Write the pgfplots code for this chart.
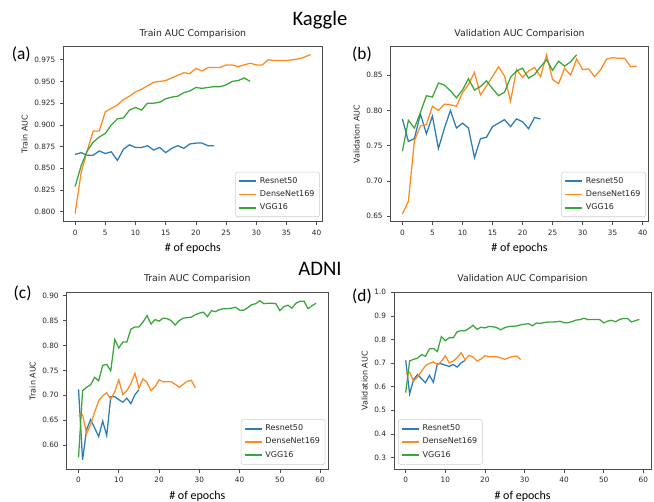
\documentclass[border=0pt]{standalone}
\usepackage{fontspec}
\setmainfont{DejaVu Sans}
\newfontfamily\carlito{Carlito}
\usepackage{pgfplots}
\pgfplotsset{compat=1.18}

\definecolor{mplblue}{HTML}{2A7DB8}
\definecolor{mplorange}{HTML}{FF8A20}
\definecolor{mplgreen}{HTML}{3AA63A}

% Kaggle, train
\pgfplotstableread{
e v
0 0.866
1 0.868
2 0.865
3 0.865
4 0.870
5 0.867
6 0.869
7 0.859
8 0.872
9 0.877
10 0.874
11 0.874
12 0.876
13 0.871
14 0.874
15 0.868
16 0.873
17 0.876
18 0.873
19 0.878
20 0.879
21 0.879
22 0.876
23 0.876
}\kTrRes
\pgfplotstableread{
e v
0 0.798
1 0.845
2 0.870
3 0.893
4 0.893
5 0.915
6 0.919
7 0.923
8 0.929
9 0.933
10 0.938
11 0.941
12 0.945
13 0.949
14 0.950
15 0.951
16 0.954
17 0.957
18 0.960
19 0.959
20 0.965
21 0.962
22 0.966
23 0.966
24 0.966
25 0.969
26 0.969
27 0.967
28 0.969
29 0.971
30 0.969
31 0.969
32 0.975
33 0.974
34 0.974
35 0.974
36 0.975
37 0.976
38 0.978
39 0.981
}\kTrDen
\pgfplotstableread{
e v
0 0.829
1 0.853
2 0.870
3 0.880
4 0.886
5 0.890
6 0.900
7 0.907
8 0.908
9 0.917
10 0.920
11 0.917
12 0.925
13 0.925
14 0.926
15 0.930
16 0.932
17 0.933
18 0.937
19 0.939
20 0.943
21 0.942
22 0.943
23 0.944
24 0.944
25 0.946
26 0.950
27 0.951
28 0.954
29 0.950
}\kTrVgg

% Kaggle, validation
\pgfplotstableread{
e v
0 0.788
1 0.756
2 0.760
3 0.795
4 0.767
5 0.792
6 0.746
7 0.775
8 0.800
9 0.775
10 0.782
11 0.775
12 0.733
13 0.760
14 0.762
15 0.777
16 0.782
17 0.787
18 0.777
19 0.788
20 0.784
21 0.774
22 0.790
23 0.788
}\kVaRes
\pgfplotstableread{
e v
0 0.653
1 0.671
2 0.757
3 0.778
4 0.780
5 0.806
6 0.800
7 0.809
8 0.808
9 0.806
10 0.825
11 0.837
12 0.854
13 0.822
14 0.835
15 0.848
16 0.862
17 0.849
18 0.813
19 0.858
20 0.847
21 0.856
22 0.861
23 0.848
24 0.879
25 0.844
26 0.838
27 0.860
28 0.850
29 0.873
30 0.858
31 0.859
32 0.848
33 0.858
34 0.873
35 0.875
36 0.874
37 0.874
38 0.862
39 0.863
}\kVaDen
\pgfplotstableread{
e v
0 0.742
1 0.786
2 0.775
3 0.797
4 0.821
5 0.819
6 0.839
7 0.836
8 0.828
9 0.818
10 0.829
11 0.845
12 0.829
13 0.834
14 0.842
15 0.831
16 0.821
17 0.826
18 0.847
19 0.856
20 0.860
21 0.846
22 0.851
23 0.862
24 0.872
25 0.857
26 0.870
27 0.863
28 0.869
29 0.879
}\kVaVgg

% ADNI (same curves in both panels)
\pgfplotstableread{
e v
0 0.712
1 0.570
2 0.631
3 0.651
4 0.634
5 0.617
6 0.648
7 0.619
8 0.697
9 0.697
10 0.691
11 0.686
12 0.694
13 0.683
14 0.701
15 0.711
}\aRes
\pgfplotstableread{
e v
0 0.659
1 0.661
2 0.623
3 0.641
4 0.666
5 0.689
6 0.699
7 0.705
8 0.692
9 0.707
10 0.731
11 0.701
12 0.709
13 0.723
14 0.744
15 0.714
16 0.733
17 0.726
18 0.709
19 0.717
20 0.731
21 0.727
22 0.727
23 0.727
24 0.722
25 0.716
26 0.722
27 0.728
28 0.730
29 0.715
}\aDen
\pgfplotstableread{
e v
0 0.575
1 0.709
2 0.716
3 0.721
4 0.736
5 0.729
6 0.760
7 0.762
8 0.749
9 0.812
10 0.795
11 0.807
12 0.807
13 0.833
14 0.837
15 0.837
16 0.847
17 0.860
18 0.843
19 0.852
20 0.849
21 0.855
22 0.854
23 0.850
24 0.841
25 0.850
26 0.855
27 0.856
28 0.857
29 0.862
30 0.865
31 0.867
32 0.858
33 0.870
34 0.868
35 0.872
36 0.874
37 0.874
38 0.875
39 0.877
40 0.871
41 0.871
42 0.876
43 0.882
44 0.884
45 0.890
46 0.884
47 0.885
48 0.885
49 0.884
50 0.870
51 0.878
52 0.881
53 0.875
54 0.885
55 0.889
56 0.889
57 0.874
58 0.880
59 0.885
}\aVgg

\pgfplotsset{
  mpl/.style={
    scale only axis,
    anchor=north west,
    axis line style={black!70},
    tick align=outside,
    tick style={black!70, line width=0.5pt},
    major tick length=2.5pt,
    xtick pos=bottom, ytick pos=left,
    ticklabel style={font=\fontsize{5.5}{6}\selectfont, text=black!85},
    /pgf/number format/assume math mode=true,
    title style={font=\fontsize{7}{8}\selectfont, text=black!85, yshift=-3pt},
    ylabel style={font=\fontsize{6}{7}\selectfont, text=black!85, yshift=-2pt},
    xlabel style={font=\carlito\fontsize{9}{10}\selectfont, yshift=1pt},
    xlabel={\# of epochs},
    legend cell align=left,
    legend style={font=\fontsize{6}{9.5}\selectfont, draw=black!20, rounded corners=1.5pt,
      fill=white, inner sep=1.8pt, row sep=0pt, text=black!85},
    legend image code/.code={\draw[##1, line width=1.4pt] (0pt,0pt) -- (13pt,0pt);},
    every axis plot/.append style={line width=0.95pt, no markers},
  },
}

\begin{document}
\begin{tikzpicture}
\useasboundingbox (0,0) rectangle (490.5pt,-376.5pt);

\node[font=\carlito\fontsize{15.5}{17}\selectfont] at (240pt,-15pt) {Kaggle};
\node[font=\carlito\fontsize{15.5}{17}\selectfont] at (240pt,-202pt) {ADNI};
\node[font=\carlito\fontsize{13}{14}\selectfont] at (16pt,-40.5pt) {(a)};
\node[font=\carlito\fontsize{13}{14}\selectfont] at (271.5pt,-41pt) {(b)};
\node[font=\carlito\fontsize{13}{14}\selectfont] at (17pt,-220pt) {(c)};
\node[font=\carlito\fontsize{13}{14}\selectfont] at (271.5pt,-222pt) {(d)};

% (a)
\begin{axis}[mpl, at={(47.5pt,-35pt)}, width=194.3pt, height=131.3pt,
  title={Train AUC Comparision}, ylabel={Train AUC},
  xmin=-1.95, xmax=40.95, ymin=0.7885, ymax=0.990,
  xtick={0,5,...,40},
  ytick={0.800,0.825,0.850,0.875,0.900,0.925,0.950,0.975},
  yticklabel style={/pgf/number format/.cd, fixed, fixed zerofill, precision=3},
  legend style={at={(0.99,0.027)}, anchor=south east}]
\addplot[mplblue] table[x=e,y=v] {\kTrRes};
\addplot[mplorange] table[x=e,y=v] {\kTrDen};
\addplot[mplgreen] table[x=e,y=v] {\kTrVgg};
\legend{Resnet50,DenseNet169,VGG16}
\end{axis}

% (b)
\begin{axis}[mpl, at={(293pt,-35pt)}, width=193.3pt, height=131.3pt,
  title={Validation AUC Comparision}, ylabel={Validation AUC},
  xmin=-1.95, xmax=40.95, ymin=0.642, ymax=0.8906,
  xtick={0,5,...,40},
  ytick={0.65,0.70,0.75,0.80,0.85},
  yticklabel style={/pgf/number format/.cd, fixed, fixed zerofill, precision=2},
  legend style={at={(0.99,0.027)}, anchor=south east}]
\addplot[mplblue] table[x=e,y=v] {\kVaRes};
\addplot[mplorange] table[x=e,y=v] {\kVaDen};
\addplot[mplgreen] table[x=e,y=v] {\kVaVgg};
\legend{Resnet50,DenseNet169,VGG16}
\end{axis}

% (c)
\begin{axis}[mpl, at={(50pt,-219.2pt)}, width=196pt, height=132.8pt,
  title={Train AUC Comparision}, ylabel={Train AUC},
  xmin=-2.95, xmax=61.95, ymin=0.551, ymax=0.907,
  xtick={0,10,...,60},
  ytick={0.60,0.65,0.70,0.75,0.80,0.85,0.90},
  yticklabel style={/pgf/number format/.cd, fixed, fixed zerofill, precision=2},
  legend style={at={(0.99,0.027)}, anchor=south east}]
\addplot[mplblue] table[x=e,y=v] {\aRes};
\addplot[mplorange] table[x=e,y=v] {\aDen};
\addplot[mplgreen] table[x=e,y=v] {\aVgg};
\legend{Resnet50,DenseNet169,VGG16}
\end{axis}

% (d)
\begin{axis}[mpl, at={(295.5pt,-219.2pt)}, width=192.8pt, height=132.8pt,
  title={Validation AUC Comparision}, ylabel={Validation AUC},
  xmin=-2.95, xmax=61.95, ymin=0.25, ymax=1.0,
  xtick={0,10,...,60},
  ytick={0.3,0.4,0.5,0.6,0.7,0.8,0.9,1.0},
  yticklabel style={/pgf/number format/.cd, fixed, fixed zerofill, precision=1},
  legend style={at={(0.016,0.027)}, anchor=south west}]
\addplot[mplblue] table[x=e,y=v] {\aRes};
\addplot[mplorange] table[x=e,y=v] {\aDen};
\addplot[mplgreen] table[x=e,y=v] {\aVgg};
\legend{Resnet50,DenseNet169,VGG16}
\end{axis}
\end{tikzpicture}
\end{document}
